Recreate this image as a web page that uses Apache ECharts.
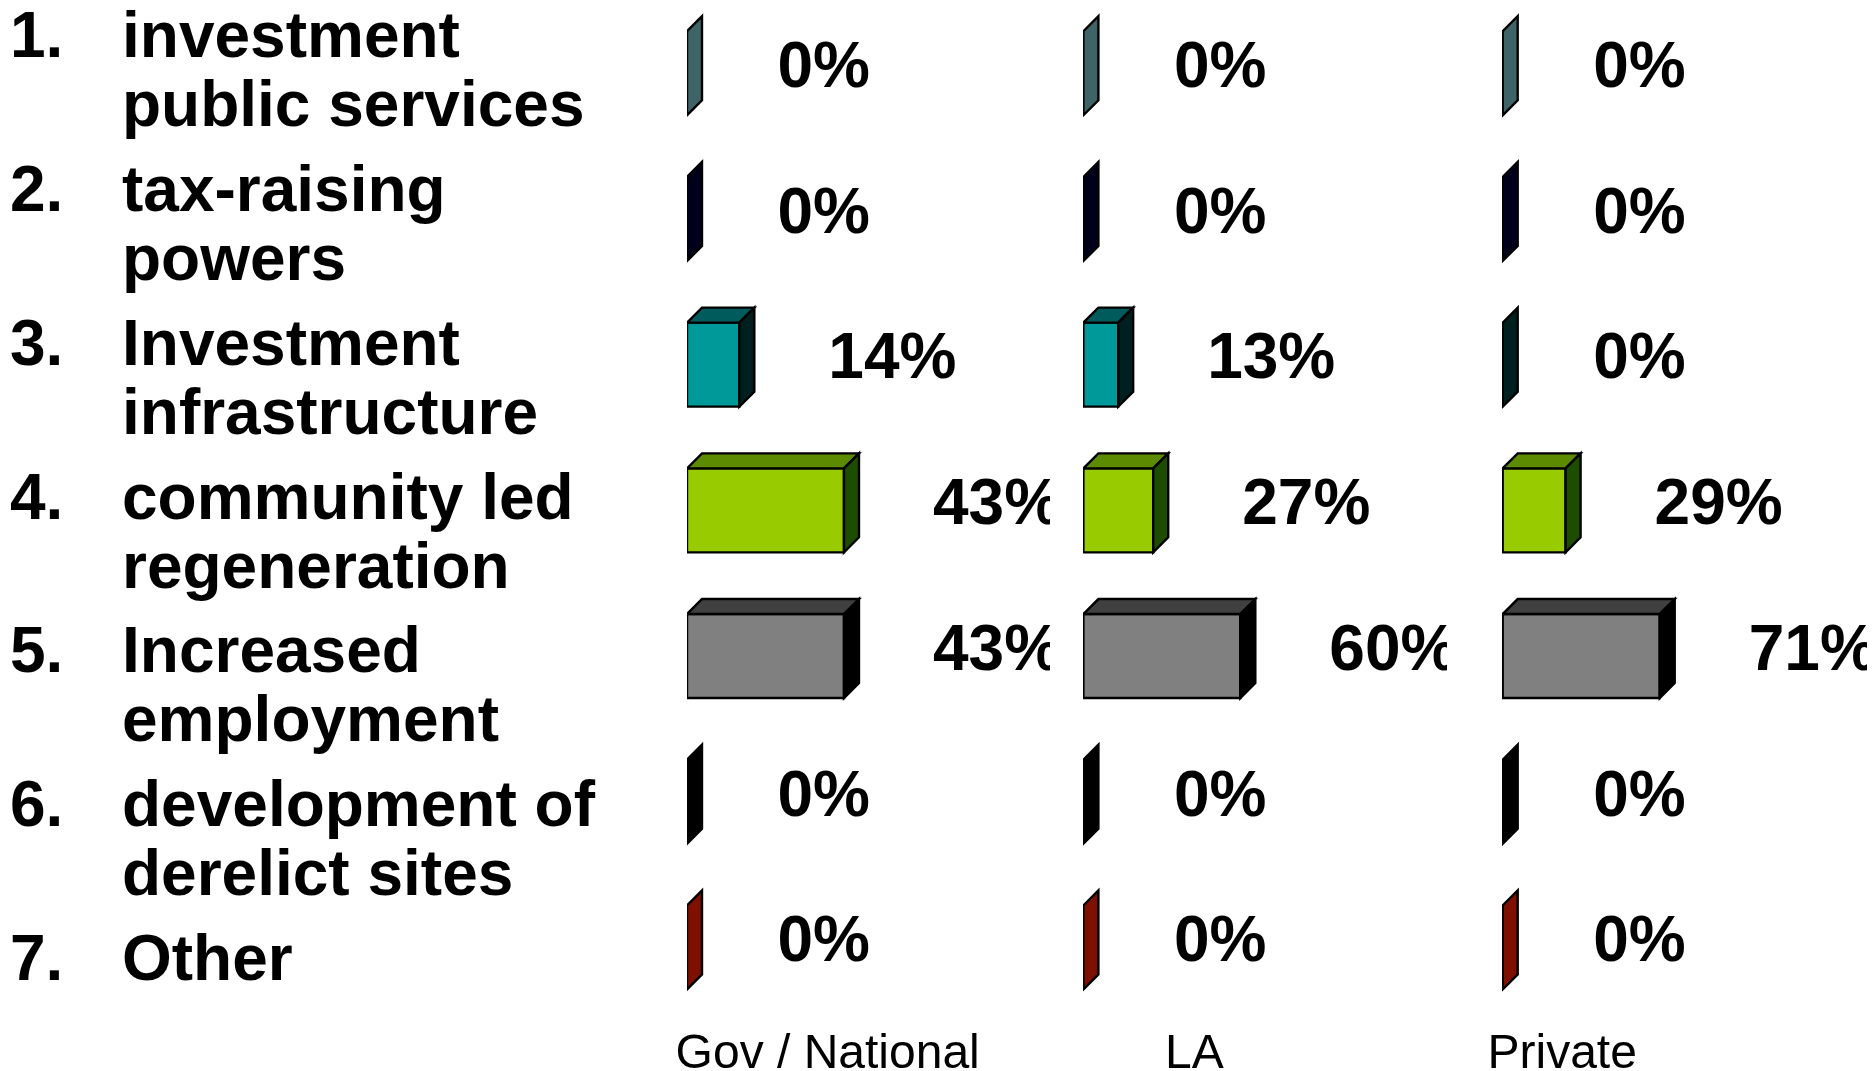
<!DOCTYPE html>
<html><head><meta charset="utf-8">
<style>html,body{margin:0;padding:0;background:#fff}#c{width:1873px;height:1071px}</style>
<script src="https://cdn.jsdelivr.net/npm/echarts@6/dist/echarts.min.js"></script>
</head><body><div id="c"></div>
<script>
const listNumbers = ['1.','2.','3.','4.','5.','6.','7.'];
const listLabels = ['investment\npublic services','tax-raising\npowers','Investment\ninfrastructure','community led\nregeneration','Increased\nemployment','development of\nderelict sites','Other'];
const panelNames = ['Gov / National','LA','Private'];
const govValues = [0,0,14.3,42.9,42.9,0,0];
const laValues = [0,0,13.3,26.7,60,0,0];
const privateValues = [0,0,0,28.6,71.4,0,0];
const axisMax = [99.2,138.8,165.2];
const frontColors = ['#4a6f73','#00001f','#009999','#99cc00','#808080','#000000','#8a1200'];
const topColors = ['#375457','#000010','#005c5c','#5c8a00','#404040','#000000','#5a0c00'];
const sideColors = ['#3f6468','#00001a','#001f1f','#1d4d00','#000000','#000000','#7f1000'];

const FONT_BOLD = 'bold 64px "Liberation Sans", Arial, sans-serif';
const FONT_REG = '48px "Liberation Sans", Arial, sans-serif';
const panels = [[687,1050],[1083.4,1446.4],[1502.7,1866]];
const rows = [0,1,2,3,4,5,6];
const allValues = [govValues,laValues,privateValues];
const gridTop = 0.4, bandH = 145.7, depth = 15, barH = 84;

function renderBar(params, api){
  const row = api.value(0), val = api.value(1);
  const base = api.coord([0,row]), end = api.coord([val,row]);
  const x0 = base[0], x1 = end[0], yc = base[1];
  const t = yc-barH/2, b = yc+barH/2;
  const line = {stroke:'#000',lineWidth:2.4,lineJoin:'miter'};
  const kids = [];
  const poly = (pts,fill)=>({type:'polygon',shape:{points:pts},style:Object.assign({fill},line)});
  if (x1-x0>0.5){
    kids.push({type:'rect',shape:{x:x0,y:t,width:x1-x0,height:barH},style:Object.assign({fill:frontColors[row]},line)});
    kids.push(poly([[x0,t],[x0+depth,t-depth],[x1+depth,t-depth],[x1,t]],topColors[row]));
  }
  kids.push(poly([[x1,t],[x1+depth,t-depth],[x1+depth,b-depth],[x1,b]],sideColors[row]));
  kids.push({type:'text',style:{text:Math.round(val)+'%',x:x1+(val>0?89:90.5),y:yc-3.8,font:FONT_BOLD,fill:'#000',textAlign:'left',textVerticalAlign:'middle',verticalAlign:'middle'}});
  return {type:'group',children:kids};
}

const grid=[],xAxis=[],yAxis=[],series=[];
panels.forEach((p,i)=>{
  grid.push({left:p[0],width:p[1]-p[0],top:gridTop,height:bandH*7,containLabel:false});
  xAxis.push({type:'value',gridIndex:i,min:0,max:axisMax[i],show:false});
  yAxis.push({type:'category',gridIndex:i,inverse:true,data:rows,show:false});
  series.push({type:'custom',xAxisIndex:i,yAxisIndex:i,clip:true,silent:true,animation:false,
    encode:{x:1,y:0},data:rows.map(r=>[r,allValues[i][r]]),renderItem:renderBar});
});

const graphic=[];
listLabels.forEach((s,i)=>{
  const y=5+153.8*i;
  graphic.push({type:'text',left:10,top:y,style:{text:listNumbers[i],font:FONT_BOLD,fill:'#000',lineHeight:69}});
  graphic.push({type:'text',left:122,top:y,style:{text:s,font:FONT_BOLD,fill:'#000',lineHeight:69}});
});
const nameX=[675.6,1165,1487.5];
panelNames.forEach((s,i)=>{
  graphic.push({type:'text',left:nameX[i],top:1031,style:{text:s,font:FONT_REG,fill:'#000'}});
});

const chart=echarts.init(document.getElementById('c'),null,{renderer:'canvas'});
chart.setOption({animation:false,backgroundColor:'#fff',grid,xAxis,yAxis,series,graphic});
</script></body></html>
